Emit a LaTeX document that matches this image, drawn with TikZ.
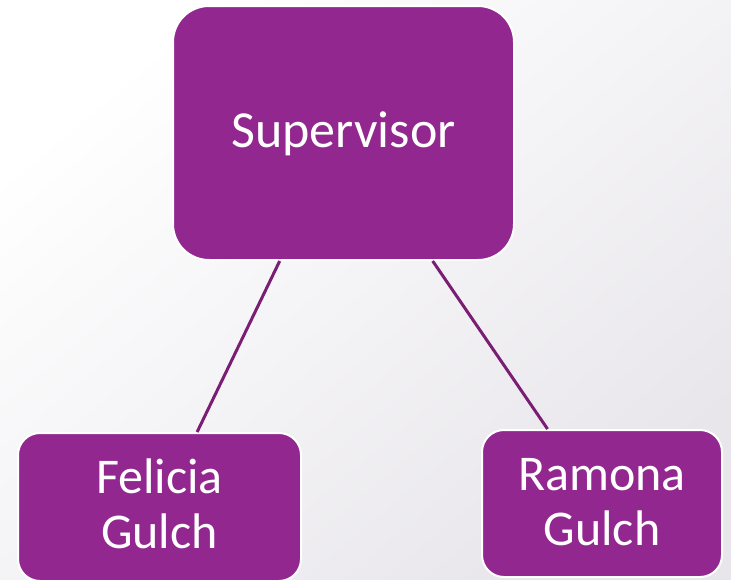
\documentclass[tikz,border=0pt]{standalone}
\usepackage{fontspec}
\setmainfont{Carlito}
\usetikzlibrary{calc}
\definecolor{boxpurple}{RGB}{146,39,143}
\definecolor{linepurple}{RGB}{122,30,116}
\definecolor{bgend}{RGB}{232,230,235}
\begin{document}
\begin{tikzpicture}[x=1pt,y=-1pt,
  orgbox/.style={draw=white,line width=2pt,fill=boxpurple,text=white,align=center,inner sep=0pt},
  conn/.style={draw=linepurple,line width=3pt}]
\useasboundingbox (0,0) rectangle (731,579);
\shade[top color=white,bottom color=bgend,shading angle=40] (0,0) rectangle (731,579);
\begin{scope}
\clip (0,0) rectangle (731,579);
\node[orgbox,minimum width=341pt,minimum height=254pt,rounded corners=36pt] (sup) at (343.5,133) {};
\node[orgbox,minimum width=283pt,minimum height=148pt,rounded corners=22pt] (fel) at (159.5,507) {};
\node[orgbox,minimum width=240pt,minimum height=147pt,rounded corners=22pt] (ram) at (602,503.5) {};
\end{scope}
\draw[conn] ($(sup.south west)!0.314!(sup.south east)$) -- ($(fel.north west)!0.632!(fel.north east)$);
\draw[conn] ($(sup.south west)!0.76!(sup.south east)$) -- ($(ram.north west)!0.275!(ram.north east)$);
\node[text=white,font=\fontsize{52}{55}\selectfont,anchor=base] (suptext) at (343.5,147) {Supervisor};
\node[text=white,font=\fontsize{50}{55}\selectfont,align=center,anchor=base] (feltext) at (159.5,548) {Felicia\\Gulch};
\node[text=white,font=\fontsize{50}{55}\selectfont,align=center,anchor=base] (ramtext) at (602,545) {Ramona\\Gulch};
\end{tikzpicture}
\end{document}
